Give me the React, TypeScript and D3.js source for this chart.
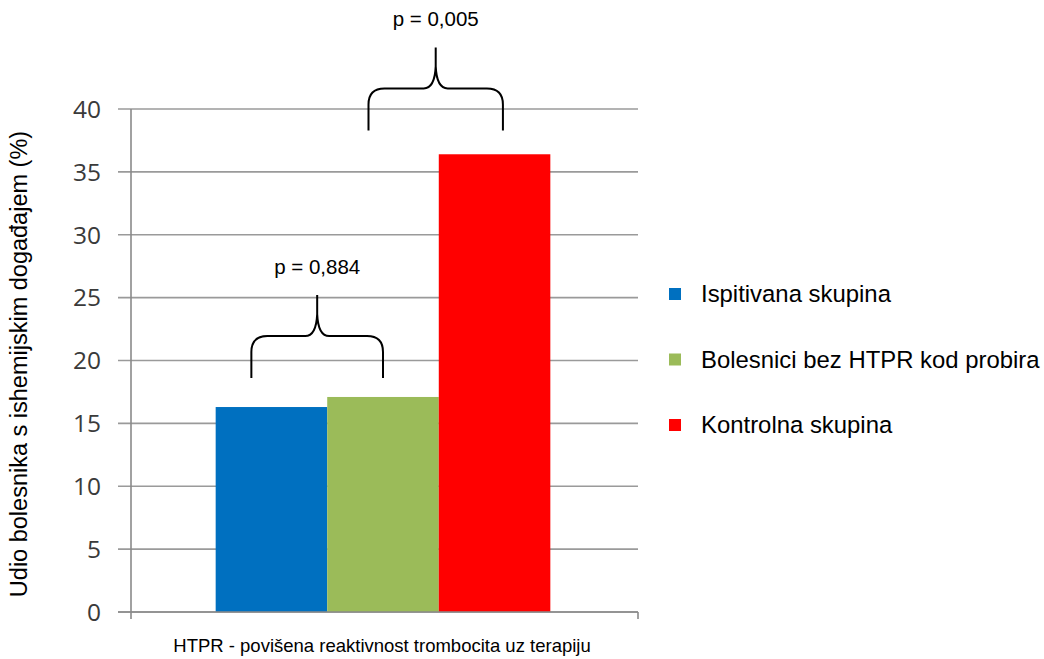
import React from "react";
import * as d3 from "d3";

const categories = ["HTPR"];
const seriesNames = ["Ispitivana skupina", "Bolesnici bez HTPR kod probira", "Kontrolna skupina"];
const seriesValues = [16.3, 17.1, 36.4];
const seriesColors = ["#0070C0", "#9BBB59", "#FF0000"];
const yTicks = [0, 5, 10, 15, 20, 25, 30, 35, 40];
const pLabels = ["p = 0,884", "p = 0,005"];
const braceFrom = [0, 1];
const braceTo = [1, 2];
const braceBase = [18.6, 38.3];

const W = 1044;
const H = 659;
const left = 131;
const right = 638;
const top = 109;
const bottom = 612;

export default function App() {
  const y = d3.scaleLinear().domain([0, 40]).range([bottom, top]);
  const xCat = d3.scaleBand().domain(categories).range([left, right - 3]).paddingInner(0).paddingOuter(0.253);
  const xSer = d3
    .scaleBand()
    .domain(seriesNames.map((_, i) => String(i)))
    .range([0, xCat.bandwidth()])
    .padding(0);
  const x0 = xCat(categories[0]) as number;
  const bw = xSer.bandwidth();
  const barX = (i: number) => x0 + (xSer(String(i)) as number);

  const bracePath = (L: number, R: number, yb: number) => {
    const yh = yb - 42;
    const peak = yh - 41;
    const C = (L + R) / 2;
    return [
      `M${L},${yb}`,
      `L${L},${yh + 16}`,
      `Q${L},${yh} ${L + 16},${yh}`,
      `L${C - 12},${yh}`,
      `Q${C - 1},${yh} ${C},${yh - 22}`,
      `L${C},${peak}`,
      `M${C},${yh - 22}`,
      `Q${C + 1},${yh} ${C + 12},${yh}`,
      `L${R - 16},${yh}`,
      `Q${R},${yh} ${R},${yh + 16}`,
      `L${R},${yb}`,
    ].join(" ");
  };

  const braceFracL = [0.32, 0.37];
  const braceFracR = [0.5, 0.575];

  return (
    <svg width={W} height={H} style={{ position: "absolute", left: 0, top: 0, background: "#fff" }}>
      <rect x={0} y={0} width={W} height={H} fill="#fff" />
      {yTicks.map((t) => (
        <line key={t} x1={118} x2={right} y1={y(t)} y2={y(t)} stroke="#9a9a9a" strokeWidth={1.6} />
      ))}
      <line x1={left} x2={left} y1={top} y2={bottom + 7} stroke="#8a8a8a" strokeWidth={1.6} />
      <line x1={right} x2={right} y1={bottom} y2={bottom + 7} stroke="#8a8a8a" strokeWidth={1.6} />
      {yTicks.map((t) => (
        <text
          key={"l" + t}
          x={101}
          y={y(t)}
          dy="0.36em"
          textAnchor="end"
          fontFamily="'Open Sans', 'DejaVu Sans', sans-serif"
          fontSize={24.5}
          fill="#3a3a3a"
        >
          {t}
        </text>
      ))}
      {seriesValues.map((v, i) => (
        <rect key={i} x={barX(i)} y={y(v)} width={bw} height={y(0) - y(v)} fill={seriesColors[i]} />
      ))}
      <line x1={118} x2={right} y1={bottom} y2={bottom} stroke="#8a8a8a" strokeWidth={1.6} />
      {pLabels.map((lab, k) => {
        const L = barX(braceFrom[k]) + braceFracL[k] * bw;
        const R = barX(braceTo[k]) + braceFracR[k] * bw;
        const yb = y(braceBase[k]);
        return (
          <g key={lab}>
            <path d={bracePath(L, R, yb)} fill="none" stroke="#000" strokeWidth={2} />
            <text
              x={(L + R) / 2}
              y={yb - 104}
              textAnchor="middle"
              fontFamily="'Liberation Sans', Arial, sans-serif"
              fontSize={20.5}
              fill="#000"
            >
              {lab}
            </text>
          </g>
        );
      })}
      <text
        transform={`translate(27,364) rotate(-90)`}
        textAnchor="middle"
        fontFamily="'Liberation Sans', Arial, sans-serif"
        fontSize={23.5}
        fill="#000"
      >
        Udio bolesnika s ishemijskim događajem (%)
      </text>
      <text
        x={382}
        y={652}
        textAnchor="middle"
        fontFamily="'Liberation Sans', Arial, sans-serif"
        fontSize={18.5}
        fill="#000"
      >
        HTPR - povišena reaktivnost trombocita uz terapiju
      </text>
      {seriesNames.map((n, i) => {
        const cy = 294 + i * 65.5;
        return (
          <g key={n}>
            <rect x={669} y={cy - 6} width={12} height={12} fill={seriesColors[i]} />
            <text
              x={701}
              y={cy + 8}
              fontFamily="'Liberation Sans', Arial, sans-serif"
              fontSize={23.9}
              fill="#000"
            >
              {n}
            </text>
          </g>
        );
      })}
    </svg>
  );
}
